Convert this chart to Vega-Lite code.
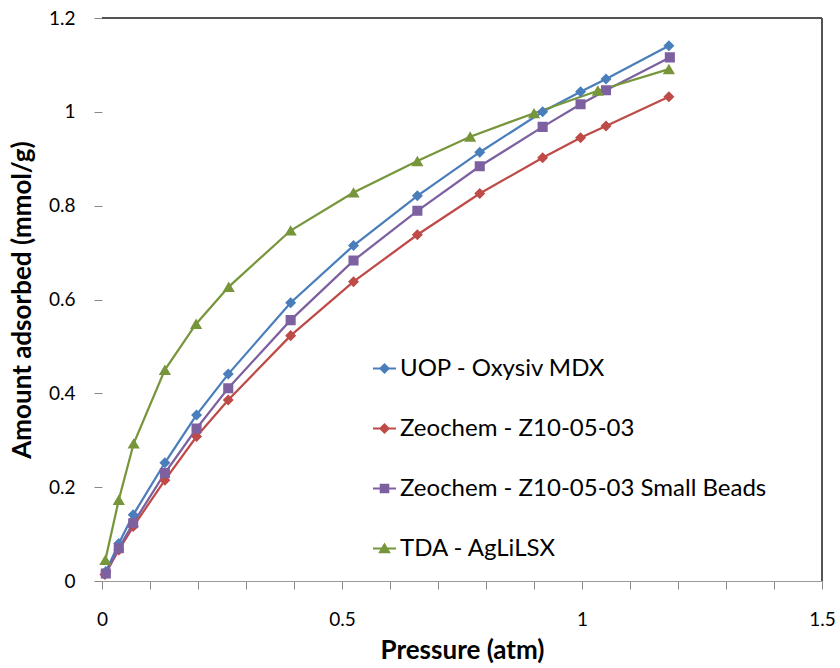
{
  "$schema": "https://vega.github.io/schema/vega-lite/v6.json",
  "autosize": {"type": "none"},
  "padding": {"left": 102, "top": 18, "right": 18, "bottom": 87},
  "width": 720,
  "height": 563,
  "background": "white",
  "config": {
    "view": {"stroke": null},
    "font": "Lato",
    "axis": {
      "labelFont": "Lato", "labelFontSize": 19, "labelColor": "#000",
      "titleFont": "Lato", "titleFontSize": 26, "titleFontWeight": "bold", "titleColor": "#000",
      "grid": false, "tickColor": "#888", "tickSize": 8, "domainColor": "#999"
    }
  },
  "data": {"values": [
    {"series": "UOP - Oxysiv MDX", "p": 0.008, "q": 0.02},
    {"series": "UOP - Oxysiv MDX", "p": 0.035, "q": 0.08},
    {"series": "UOP - Oxysiv MDX", "p": 0.065, "q": 0.141},
    {"series": "UOP - Oxysiv MDX", "p": 0.131, "q": 0.252},
    {"series": "UOP - Oxysiv MDX", "p": 0.197, "q": 0.354},
    {"series": "UOP - Oxysiv MDX", "p": 0.263, "q": 0.441},
    {"series": "UOP - Oxysiv MDX", "p": 0.393, "q": 0.593},
    {"series": "UOP - Oxysiv MDX", "p": 0.524, "q": 0.715},
    {"series": "UOP - Oxysiv MDX", "p": 0.657, "q": 0.821},
    {"series": "UOP - Oxysiv MDX", "p": 0.787, "q": 0.914},
    {"series": "UOP - Oxysiv MDX", "p": 0.918, "q": 1.0},
    {"series": "UOP - Oxysiv MDX", "p": 0.997, "q": 1.043},
    {"series": "UOP - Oxysiv MDX", "p": 1.05, "q": 1.07},
    {"series": "UOP - Oxysiv MDX", "p": 1.181, "q": 1.141},
    {"series": "Zeochem - Z10-05-03", "p": 0.006, "q": 0.014},
    {"series": "Zeochem - Z10-05-03", "p": 0.035, "q": 0.066},
    {"series": "Zeochem - Z10-05-03", "p": 0.065, "q": 0.116},
    {"series": "Zeochem - Z10-05-03", "p": 0.131, "q": 0.215},
    {"series": "Zeochem - Z10-05-03", "p": 0.197, "q": 0.308},
    {"series": "Zeochem - Z10-05-03", "p": 0.263, "q": 0.386},
    {"series": "Zeochem - Z10-05-03", "p": 0.393, "q": 0.523},
    {"series": "Zeochem - Z10-05-03", "p": 0.524, "q": 0.638},
    {"series": "Zeochem - Z10-05-03", "p": 0.657, "q": 0.738},
    {"series": "Zeochem - Z10-05-03", "p": 0.787, "q": 0.826},
    {"series": "Zeochem - Z10-05-03", "p": 0.918, "q": 0.902},
    {"series": "Zeochem - Z10-05-03", "p": 0.997, "q": 0.945},
    {"series": "Zeochem - Z10-05-03", "p": 1.05, "q": 0.97},
    {"series": "Zeochem - Z10-05-03", "p": 1.181, "q": 1.032},
    {"series": "Zeochem - Z10-05-03 Small Beads", "p": 0.008, "q": 0.016},
    {"series": "Zeochem - Z10-05-03 Small Beads", "p": 0.035, "q": 0.07},
    {"series": "Zeochem - Z10-05-03 Small Beads", "p": 0.065, "q": 0.123},
    {"series": "Zeochem - Z10-05-03 Small Beads", "p": 0.131, "q": 0.23},
    {"series": "Zeochem - Z10-05-03 Small Beads", "p": 0.197, "q": 0.325},
    {"series": "Zeochem - Z10-05-03 Small Beads", "p": 0.263, "q": 0.411},
    {"series": "Zeochem - Z10-05-03 Small Beads", "p": 0.393, "q": 0.556},
    {"series": "Zeochem - Z10-05-03 Small Beads", "p": 0.524, "q": 0.683},
    {"series": "Zeochem - Z10-05-03 Small Beads", "p": 0.657, "q": 0.789},
    {"series": "Zeochem - Z10-05-03 Small Beads", "p": 0.787, "q": 0.884},
    {"series": "Zeochem - Z10-05-03 Small Beads", "p": 0.918, "q": 0.968},
    {"series": "Zeochem - Z10-05-03 Small Beads", "p": 0.997, "q": 1.016},
    {"series": "Zeochem - Z10-05-03 Small Beads", "p": 1.05, "q": 1.046},
    {"series": "Zeochem - Z10-05-03 Small Beads", "p": 1.183, "q": 1.116},
    {"series": "TDA - AgLiLSX", "p": 0.007, "q": 0.045},
    {"series": "TDA - AgLiLSX", "p": 0.035, "q": 0.173},
    {"series": "TDA - AgLiLSX", "p": 0.066, "q": 0.293},
    {"series": "TDA - AgLiLSX", "p": 0.131, "q": 0.45},
    {"series": "TDA - AgLiLSX", "p": 0.196, "q": 0.548},
    {"series": "TDA - AgLiLSX", "p": 0.264, "q": 0.627},
    {"series": "TDA - AgLiLSX", "p": 0.393, "q": 0.747},
    {"series": "TDA - AgLiLSX", "p": 0.524, "q": 0.828},
    {"series": "TDA - AgLiLSX", "p": 0.657, "q": 0.895},
    {"series": "TDA - AgLiLSX", "p": 0.767, "q": 0.947},
    {"series": "TDA - AgLiLSX", "p": 0.9, "q": 0.997},
    {"series": "TDA - AgLiLSX", "p": 1.033, "q": 1.045},
    {"series": "TDA - AgLiLSX", "p": 1.181, "q": 1.091}
  ]},
  "encoding": {
    "x": {
      "field": "p", "type": "quantitative", "title": "Pressure (atm)",
      "scale": {"domain": [0, 1.5], "nice": false},
      "axis": {
        "values": [0, 0.1, 0.2, 0.3, 0.4, 0.5, 0.6, 0.7, 0.8, 0.9, 1, 1.1, 1.2, 1.3, 1.4, 1.5],
        "labelExpr": "abs(datum.value*2 - round(datum.value*2)) < 0.001 ? format(datum.value, '~g') : ''",
        "labelPadding": 21, "titlePadding": 8, "labelFlush": false, "labelOverlap": false
      }
    },
    "y": {
      "field": "q", "type": "quantitative", "title": "Amount adsorbed (mmol/g)",
      "scale": {"domain": [0, 1.2], "nice": false},
      "axis": {
        "values": [0, 0.2, 0.4, 0.6, 0.8, 1, 1.2], "format": "~g",
        "domain": false, "labelPadding": 19, "titlePadding": 13, "labelFlush": false
      }
    },
    "color": {
      "field": "series", "type": "nominal",
      "scale": {
        "domain": ["UOP - Oxysiv MDX", "Zeochem - Z10-05-03", "Zeochem - Z10-05-03 Small Beads", "TDA - AgLiLSX"],
        "range": ["#4A7EBB", "#BE4B48", "#7D60A0", "#77963C"]
      },
      "legend": {
        "title": null, "orient": "none", "legendX": 270, "legendY": 338,
        "padding": 0, "rowPadding": 35, "labelFontSize": 24, "labelFont": "Lato", "labelColor": "#000",
        "labelOffset": 3, "symbolSize": 529, "symbolStrokeWidth": 2, "labelLimit": 500
      }
    }
  },
  "layer": [
    {"mark": {"type": "line", "strokeWidth": 2.25}},
    {
      "mark": {"type": "point", "filled": true, "opacity": 1, "size": 934, "strokeWidth": 0},
      "encoding": {
        "shape": {
          "field": "series", "type": "nominal", "legend": null,
          "scale": {
            "domain": ["UOP - Oxysiv MDX", "Zeochem - Z10-05-03", "Zeochem - Z10-05-03 Small Beads", "TDA - AgLiLSX"],
            "range": [
              "M-1,0L1,0M0,-0.36L0.36,0L0,0.36L-0.36,0Z",
              "M-1,0L1,0M0,-0.36L0.36,0L0,0.36L-0.36,0Z",
              "M-1,0L1,0M-0.33,-0.33L0.33,-0.33L0.33,0.33L-0.33,0.33Z",
              "M-1,0L1,0M0,-0.35L0.4,0.33L-0.4,0.33Z"
            ]
          }
        }
      }
    },
    {
      "mark": {"type": "rule", "color": "#555", "strokeWidth": 1.5},
      "encoding": {"y": {"datum": 1.2}, "x": null, "color": null}
    },
    {
      "mark": {"type": "rule", "color": "#555", "strokeWidth": 1.5},
      "encoding": {"x": {"datum": 1.5}, "y": null, "color": null}
    }
  ]
}
